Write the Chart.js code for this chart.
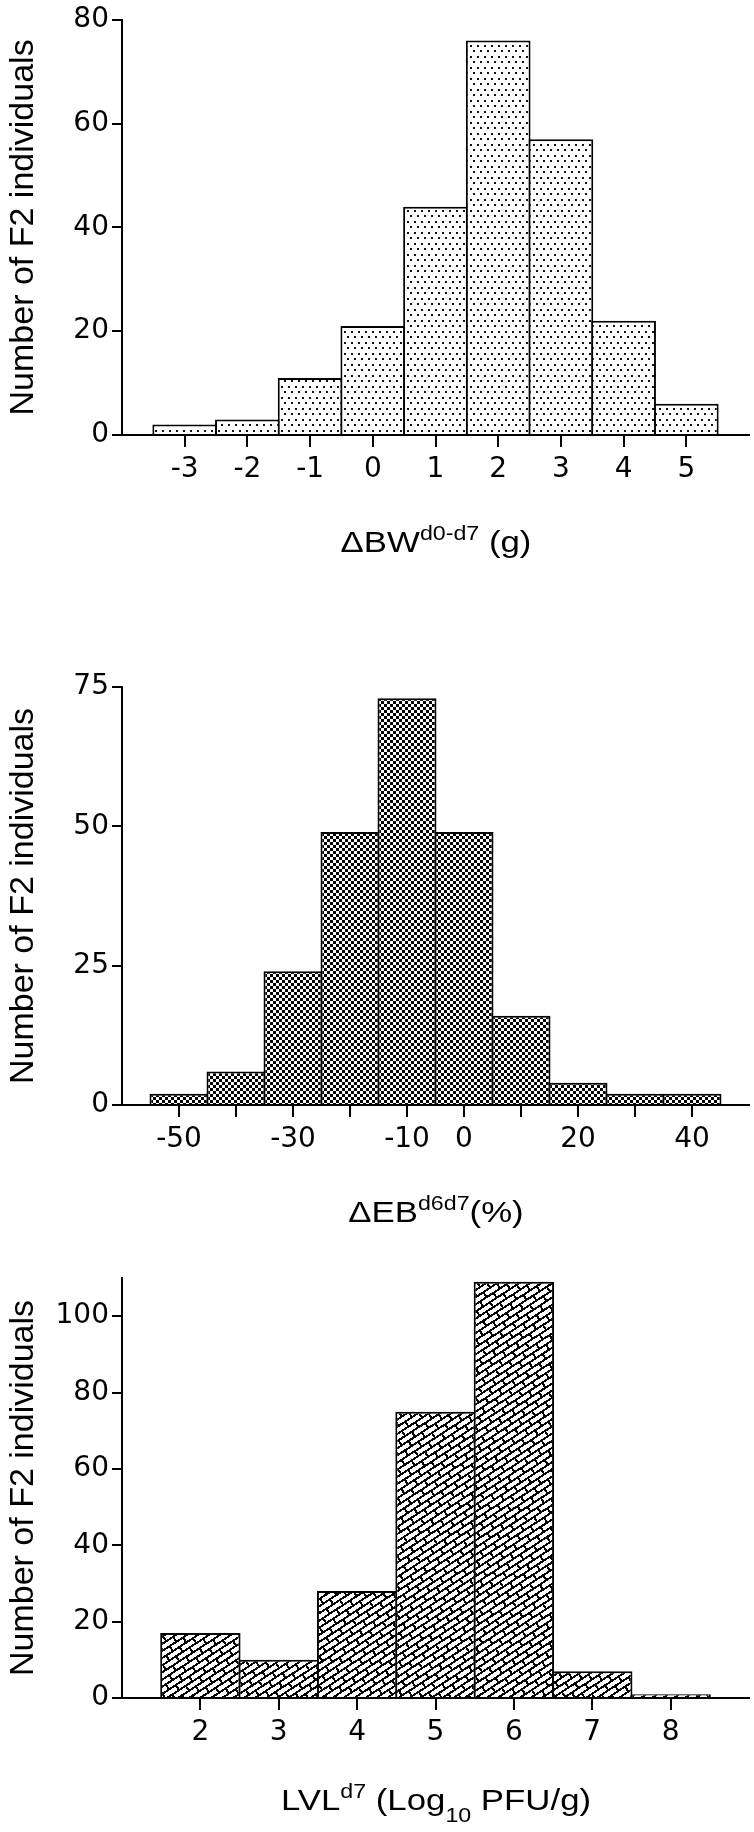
<!DOCTYPE html>
<html>
<head>
<meta charset="utf-8">
<script src="https://cdn.jsdelivr.net/npm/chart.js@4.4.1/dist/chart.umd.min.js"></script>
<style>
  html, body { margin: 0; padding: 0; background: #fff; }
  #page { position: relative; width: 754px; height: 1832px; }
  canvas { position: absolute; left: 0; }
</style>
</head>
<body>
<div id="page">
  <canvas id="bwChart" width="754" height="600" style="top:0px"></canvas>
  <canvas id="ebChart" width="754" height="620" style="top:620px"></canvas>
  <canvas id="lvlChart" width="754" height="592" style="top:1240px"></canvas>
</div>
<script>
// histogram data
const bwBins = [-3, -2, -1, 0, 1, 2, 3, 4, 5];
const bwCounts = [2, 3, 11, 21, 44, 76, 57, 22, 6];
const bwYTicks = [0, 20, 40, 60, 80];

const ebBins = [-50, -40, -30, -20, -10, 0, 10, 20, 30, 40];
const ebCounts = [2, 6, 24, 49, 73, 49, 16, 4, 2, 2];
const ebShownLabels = [-50, -30, -10, 0, 20, 40];
const ebYTicks = [0, 25, 50, 75];

const lvlBins = [2, 3, 4, 5, 6, 7, 8];
const lvlCounts = [17, 10, 28, 75, 109, 7, 1];
const lvlYTicks = [0, 20, 40, 60, 80, 100];

const yTitle = 'Number of F2 individuals';

const PLOT_LEFT = 122;
const PLOT_RIGHT_PAD = 5;

// fill patterns
function dotPattern(ctx) {
  const c = document.createElement('canvas');
  c.width = 7; c.height = 11;
  const g = c.getContext('2d');
  g.fillStyle = '#fff'; g.fillRect(0, 0, 7, 11);
  g.fillStyle = '#111';
  g.fillRect(1, 1, 2, 2);
  g.fillRect(4, 6, 2, 2);
  return ctx.createPattern(c, 'repeat');
}

function checkerPattern(ctx) {
  const c = document.createElement('canvas');
  c.width = 6; c.height = 6;
  const g = c.getContext('2d');
  g.fillStyle = '#fff'; g.fillRect(0, 0, 6, 6);
  g.fillStyle = '#000';
  g.fillRect(0, 0, 3, 3);
  g.fillRect(3, 3, 3, 3);
  return ctx.createPattern(c, 'repeat');
}

function brickPattern(ctx) {
  const c = document.createElement('canvas');
  c.width = 16; c.height = 12;
  const g = c.getContext('2d');
  g.fillStyle = '#000'; g.fillRect(0, 0, 16, 12);
  g.fillStyle = '#fff';
  g.fillRect(2, 2, 14, 4);
  g.fillRect(0, 8, 8, 4);
  g.fillRect(10, 8, 6, 4);
  const p = ctx.createPattern(c, 'repeat');
  p.setTransform(new DOMMatrix().rotate(-33));
  return p;
}

// x axis title with super/subscripts
const xTitlePlugin = {
  id: 'xTitle',
  beforeDraw(chart) {
    chart.ctx.imageSmoothingEnabled = false;
  },
  afterDraw(chart, args, opts) {
    if (!opts.parts) return;
    const ctx = chart.ctx;
    const big = 30, small = 20;
    ctx.save();
    ctx.fillStyle = '#000';
    ctx.textBaseline = 'alphabetic';
    ctx.textAlign = 'left';
    let total = 0;
    const sizes = opts.parts.map(([txt, kind]) => {
      ctx.font = (kind === 'n' ? big : small) + 'px "Liberation Sans", Arial, sans-serif';
      const w = ctx.measureText(txt).width;
      total += w;
      return w;
    });
    ctx.translate(opts.x, opts.y);
    ctx.scale(1.16, 1);
    let x = -total / 2;
    opts.parts.forEach(([txt, kind], i) => {
      ctx.font = (kind === 'n' ? big : small) + 'px "Liberation Sans", Arial, sans-serif';
      const dy = kind === 'sup' ? -12 : kind === 'sub' ? 12 : 0;
      ctx.fillText(txt, x, dy);
      x += sizes[i];
    });
    ctx.restore();
  }
};

function makeHistogram(id, opts) {
  const canvas = document.getElementById(id);
  const ctx = canvas.getContext('2d');
  const H = canvas.height;
  const plotWidth = canvas.width - PLOT_LEFT - PLOT_RIGHT_PAD;
  const binPx = plotWidth * opts.binWidth / (opts.xMax - opts.xMin);

  return new Chart(ctx, {
    type: 'bar',
    data: {
      datasets: [{
        data: opts.bins.map((b, i) => ({ x: b, y: opts.counts[i] })),
        backgroundColor: opts.fill(ctx),
        borderColor: '#000',
        borderWidth: 2,
        inflateAmount: 0,
        categoryPercentage: 1,
        barPercentage: 1 + 2 / binPx
      }]
    },
    options: {
      responsive: false,
      animation: false,
      layout: { padding: { top: opts.top, right: PLOT_RIGHT_PAD, left: 0, bottom: 0 } },
      plugins: {
        legend: { display: false },
        tooltip: { enabled: false },
        xTitle: { parts: opts.title, x: 436, y: opts.titleY }
      },
      scales: {
        x: {
          type: 'linear',
          offset: false,
          min: opts.xMin,
          max: opts.xMax,
          afterBuildTicks: (s) => { s.ticks = opts.bins.map(v => ({ value: v })); },
          afterFit: (s) => { s.height = H - opts.top - opts.plotH; },
          border: { display: true, color: '#000', width: 2 },
          grid: { display: true, offset: false, drawOnChartArea: false, drawTicks: true, tickLength: 12, lineWidth: 2, color: '#000' },
          ticks: {
            autoSkip: false,
            maxRotation: 0,
            padding: 6,
            color: '#000',
            font: { family: '"DejaVu Sans", sans-serif', size: 28 },
            callback: (v) => (opts.shown ? (opts.shown.includes(v) ? String(v) : '') : String(v))
          }
        },
        y: {
          min: 0,
          max: opts.yMax,
          afterBuildTicks: (s) => { s.ticks = opts.yTicks.map(v => ({ value: v })); },
          afterFit: (s) => { s.width = PLOT_LEFT; },
          border: { display: true, color: '#000', width: 2 },
          grid: { display: true, drawOnChartArea: false, drawTicks: true, tickLength: 10, lineWidth: 2, color: '#000' },
          ticks: {
            padding: 3,
            color: '#000',
            font: { family: '"DejaVu Sans", sans-serif', size: 28 },
            callback: (v) => String(v)
          },
          title: {
            display: true,
            text: yTitle,
            color: '#000',
            font: { family: '"Liberation Sans", Arial, sans-serif', size: 34 },
            padding: { top: 3, bottom: 0 }
          }
        }
      }
    },
    plugins: [xTitlePlugin]
  });
}

makeHistogram('bwChart', {
  bins: bwBins, counts: bwCounts, yTicks: bwYTicks,
  binWidth: 1, xMin: -4, xMax: 6, yMax: 80,
  top: 18, plotH: 417,
  fill: dotPattern,
  title: [['\u0394BW', 'n'], ['d0-d7', 'sup'], [' (g)', 'n']],
  titleY: 552
});

makeHistogram('ebChart', {
  bins: ebBins, counts: ebCounts, yTicks: ebYTicks, shown: ebShownLabels,
  binWidth: 10, xMin: -60, xMax: 50, yMax: 75,
  top: 67, plotH: 418,
  fill: checkerPattern,
  title: [['\u0394EB', 'n'], ['d6d7', 'sup'], ['(%)', 'n']],
  titleY: 602
});

makeHistogram('lvlChart', {
  bins: lvlBins, counts: lvlCounts, yTicks: lvlYTicks,
  binWidth: 1, xMin: 1, xMax: 9, yMax: 110,
  top: 38, plotH: 420,
  fill: brickPattern,
  title: [['LVL', 'n'], ['d7', 'sup'], [' (Log', 'n'], ['10', 'sub'], [' PFU/g)', 'n']],
  titleY: 570
});
</script>
</body>
</html>
